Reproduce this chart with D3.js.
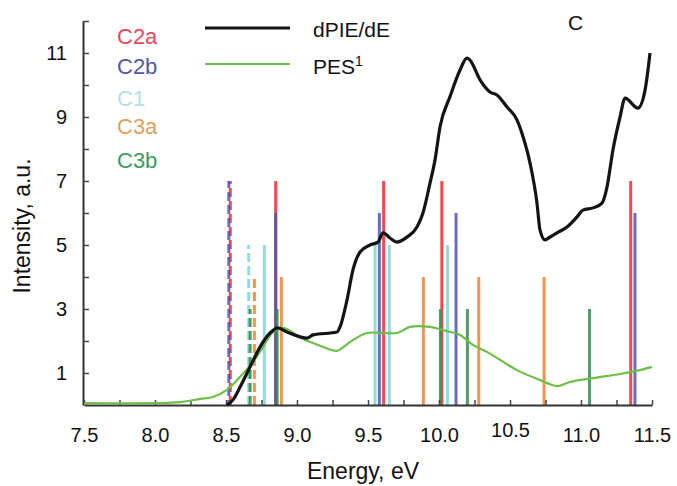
<!DOCTYPE html>
<html>
<head>
<meta charset="utf-8">
<script src="https://cdn.jsdelivr.net/npm/d3@7"></script>
<style>
  html, body { margin: 0; padding: 0; background: #fff; }
  svg { display: block; font-family: "Liberation Sans", Arial, Helvetica, sans-serif; }
</style>
</head>
<body>
<svg id="chart" width="677" height="486"></svg>
<script>
// Calculated transitions (energy in eV, relative intensity); first entry of each is the dashed one
const c2aEnergy = [8.53, 8.85, 9.61, 10.02, 11.35];
const c2aIntensity = [7, 7, 7, 7, 7];
const c2bEnergy = [8.52, 8.85, 9.58, 10.12, 11.38];
const c2bIntensity = [7, 6, 6, 6, 6];
const c1Energy = [8.66, 8.77, 9.55, 9.65, 10.06];
const c1Intensity = [5, 5, 5, 5, 5];
const c3aEnergy = [8.70, 8.89, 9.89, 10.28, 10.74];
const c3aIntensity = [4, 4, 4, 4, 4];
const c3bEnergy = [8.67, 8.86, 10.01, 10.20, 11.06];
const c3bIntensity = [3, 3, 3, 3, 3];
const dashedFlags = [true, false, false, false, false];

const seriesNames = ["C2a", "C2b", "C1", "C3a", "C3b"];

// dPIE/dE curve
const dpieEnergy = [8.507, 8.549, 8.599, 8.669, 8.739, 8.810, 8.866, 8.930, 9.021, 9.070, 9.113, 9.282, 9.303, 9.352, 9.394, 9.444, 9.514, 9.570, 9.606, 9.655, 9.704, 9.775, 9.845, 9.887, 9.937, 9.972, 10.007, 10.077, 10.148, 10.197, 10.218, 10.289, 10.359, 10.408, 10.479, 10.549, 10.592, 10.641, 10.690, 10.711, 10.746, 10.782, 10.831, 10.901, 10.972, 11.014, 11.085, 11.148, 11.183, 11.225, 11.275, 11.310, 11.401, 11.451, 11.486];
const dpieValue = [0.00, 0.16, 0.56, 1.19, 1.81, 2.25, 2.41, 2.28, 2.13, 2.09, 2.19, 2.28, 2.44, 3.28, 4.22, 4.78, 5.00, 5.09, 5.38, 5.22, 5.09, 5.25, 5.56, 6.00, 6.94, 7.66, 8.69, 9.63, 10.47, 10.84, 10.78, 10.16, 9.78, 9.69, 9.31, 8.91, 8.38, 7.56, 6.31, 5.47, 5.16, 5.25, 5.38, 5.56, 5.88, 6.09, 6.16, 6.31, 6.81, 7.97, 9.00, 9.59, 9.28, 9.84, 11.00];

// Photoelectron spectrum
const pesEnergy = [7.50, 8.176, 8.317, 8.408, 8.507, 8.599, 8.690, 8.761, 8.831, 8.901, 9.042, 9.113, 9.282, 9.317, 9.394, 9.493, 9.704, 9.796, 9.937, 10.028, 10.148, 10.239, 10.338, 10.430, 10.549, 10.711, 10.831, 10.923, 11.085, 11.275, 11.415, 11.500];
const pesValue = [0.06, 0.09, 0.19, 0.25, 0.47, 0.88, 1.34, 1.81, 2.28, 2.41, 2.06, 1.94, 1.69, 1.78, 2.03, 2.25, 2.25, 2.44, 2.44, 2.34, 2.19, 1.88, 1.66, 1.41, 1.09, 0.78, 0.59, 0.72, 0.84, 0.97, 1.09, 1.19];

const xTickValues = [7.5, 7.75, 8.0, 8.25, 8.5, 8.75, 9.0, 9.25, 9.5, 9.75, 10.0, 10.25, 10.5, 10.75, 11.0, 11.25, 11.5];
const yTickValues = [1, 2, 3, 4, 5, 6, 7, 8, 9, 10, 11, 12];

// ---- styles ----
const barColors = { C2a: "#ee2b2f", C2b: "#5252b4", C1: "#84d3db", C3a: "#f0842e", C3b: "#2f8c50" };
const labelColors = { C2a: "#e8485c", C2b: "#5655a6", C1: "#b2e1e5", C3a: "#e0a25a", C3b: "#3d9a5d" };

const svg = d3.select("#chart");
const x = d3.scaleLinear().domain([7.5, 11.5]).range([84, 652]);
const y = d3.scaleLinear().domain([0, 12]).range([405, 21]);

const series = [
  { name: "C2a", e: c2aEnergy, v: c2aIntensity },
  { name: "C2b", e: c2bEnergy, v: c2bIntensity },
  { name: "C1", e: c1Energy, v: c1Intensity },
  { name: "C3a", e: c3aEnergy, v: c3aIntensity },
  { name: "C3b", e: c3bEnergy, v: c3bIntensity }
];

// transition sticks
const sticks = svg.append("g").attr("class", "sticks");
series.forEach(s => {
  s.e.forEach((en, i) => {
    sticks.append("line")
      .attr("x1", x(en)).attr("x2", x(en))
      .attr("y1", y(0)).attr("y2", y(s.v[i]))
      .attr("stroke", barColors[s.name])
      .attr("stroke-width", 3)
      .attr("stroke-opacity", 0.85)
      .attr("stroke-dasharray", dashedFlags[i] ? "9,4" : null)
      .attr("stroke-dashoffset", dashedFlags[i] && s.name === "C2b" ? 4 : 0);
  });
});

// axes
const xAxis = d3.axisBottom(x)
  .tickValues(xTickValues)
  .tickSize(-5)
  .tickSizeOuter(0)
  .tickPadding(23)
  .tickFormat(d => (Math.abs(d * 2 - Math.round(d * 2)) < 1e-9 ? d3.format(".1f")(d) : ""));
const gx = svg.append("g").attr("transform", `translate(0,${y(0)})`).call(xAxis);

const yAxis = d3.axisLeft(y)
  .tickValues(yTickValues)
  .tickSize(-6)
  .tickSizeOuter(0)
  .tickPadding(16)
  .tickFormat(d => (d % 2 === 1 ? d : ""));
const gy = svg.append("g").attr("transform", `translate(${x(7.5) - 1},0)`).call(yAxis);

[gx, gy].forEach(g => {
  g.select(".domain").attr("stroke", "#333").attr("stroke-width", 2);
  g.selectAll(".tick line").attr("stroke", "#444").attr("stroke-width", 1.5);
  g.selectAll(".tick text").attr("fill", "#111").style("font-size", "20px");
});
gx.selectAll(".tick text").filter(d => d === 10.5).attr("dy", "0.46em");

// curves
const pesLine = d3.line().x((d, i) => x(pesEnergy[i])).y(d => y(d)).curve(d3.curveCatmullRom.alpha(0.5));
svg.append("path").datum(pesValue)
  .attr("d", pesLine).attr("fill", "none")
  .attr("stroke", "#6cbf48").attr("stroke-width", 2.2);

const dpieLine = d3.line().x((d, i) => x(dpieEnergy[i])).y(d => y(d)).curve(d3.curveMonotoneX);
svg.append("path").datum(dpieValue)
  .attr("d", dpieLine).attr("fill", "none")
  .attr("stroke", "#141414").attr("stroke-width", 3.2)
  .attr("stroke-linejoin", "round");

// axis titles
svg.append("text")
  .attr("x", 363).attr("y", 479)
  .attr("text-anchor", "middle")
  .style("font-size", "23px").attr("fill", "#111")
  .text("Energy, eV");
svg.append("text")
  .attr("transform", "translate(30,226) rotate(-90)")
  .attr("text-anchor", "middle")
  .style("font-size", "23px").attr("fill", "#111")
  .text("Intensity, a.u.");

// series labels
const labelBaselines = [44, 74, 106, 134, 168];
seriesNames.forEach((n, i) => {
  svg.append("text")
    .attr("x", 117).attr("y", labelBaselines[i])
    .style("font-size", "22px")
    .attr("fill", labelColors[n])
    .text(n);
});

// curve legend
svg.append("line").attr("x1", 205).attr("x2", 290).attr("y1", 28).attr("y2", 28)
  .attr("stroke", "#141414").attr("stroke-width", 3.2);
svg.append("text").attr("x", 313).attr("y", 37)
  .style("font-size", "21px").attr("fill", "#111").text("dPIE/dE");
svg.append("line").attr("x1", 205).attr("x2", 290).attr("y1", 64).attr("y2", 64)
  .attr("stroke", "#6cbf48").attr("stroke-width", 2.2);
const pesLabel = svg.append("text").attr("x", 313).attr("y", 74)
  .style("font-size", "21px").attr("fill", "#111");
pesLabel.append("tspan").text("PES");
pesLabel.append("tspan").attr("dy", -8).style("font-size", "14px").text("1");

// panel letter
svg.append("text").attr("x", 568).attr("y", 30)
  .style("font-size", "21px").attr("fill", "#111").text("C");
</script>
</body>
</html>
